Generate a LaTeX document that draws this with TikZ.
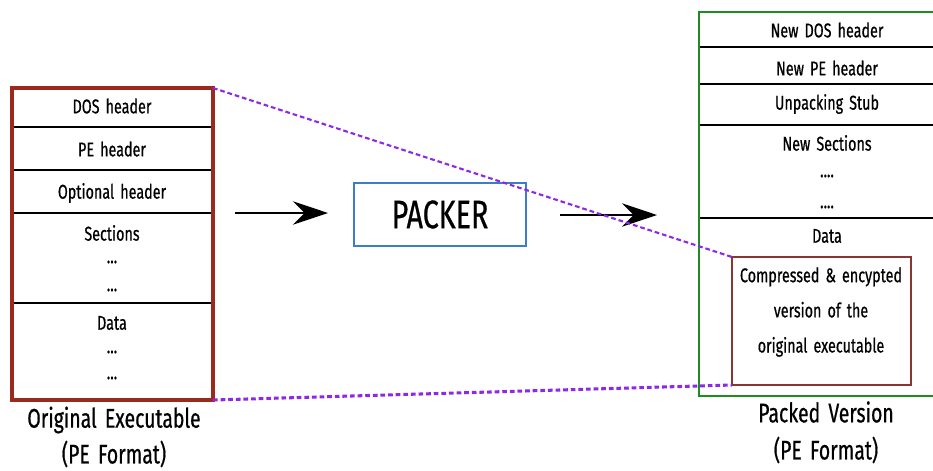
\documentclass[tikz,border=0pt]{standalone}
\usepackage{fontspec}
\setmainfont{Fira Sans}[FakeStretch=0.72,WordSpace=1.6,FakeBold=0.6]
\usetikzlibrary{arrows.meta}
\definecolor{origred}{RGB}{155,42,30}
\definecolor{blobred}{RGB}{140,52,50}
\definecolor{packgreen}{RGB}{30,140,30}
\definecolor{packblue}{RGB}{60,125,200}
\definecolor{linkpurple}{RGB}{140,40,230}
\begin{document}
\begin{tikzpicture}[x=0.03cm,y=-0.03cm]
	\useasboundingbox (0,0) rectangle (933,470);
	\tikzset{
		txt/.style={font=\fontsize{17}{20}\selectfont},
		caption/.style={font=\fontsize{23}{26}\selectfont},
		sep/.style={line width=1.5pt},
		link/.style={linkpurple,line width=1.8pt,dash pattern=on 4pt off 2.5pt}
	}
	% original executable
	\coordinate (o1) at (12,88);
	\coordinate (o2) at (213,400);
	\foreach \y in {127,170,213,303}
		\draw[sep] (12,\y) -- (213,\y);
	\draw[origred,line width=3pt] (o1) rectangle (o2);
	\node[txt] (dos) at (112,106) {DOS header};
	\node[txt] (pe) at (112,149) {PE header};
	\node[txt] (opt) at (112,193) {Optional header};
	\node[txt] (sec) at (112,233) {Sections};
	\node[txt] (sd1) at (112,262) {...};
	\node[txt] (sd2) at (112,290) {...};
	\node[txt] (dat) at (112,323) {Data};
	\node[txt] (dd1) at (112,352) {...};
	\node[txt] (dd2) at (112,378) {...};
	\node[caption] (orig) at (114,420) {Original Executable};
	\node[caption] (origf) at (114,454) {(PE Format)};

	% packer
	\node[draw=packblue,line width=2pt,minimum width=172*0.03cm,minimum height=63*0.03cm,
		font=\fontsize{34}{38}\selectfont] (packer) at (440,214.5) {PACKER};
	\coordinate (a1) at (235,213);
	\coordinate (a2) at (328,213);
	\coordinate (b1) at (560,215);
	\coordinate (b2) at (657,215);
	\begin{scope}[-{Stealth[length=30pt,width=20pt,inset=10pt]},line width=1.6pt]
		\draw (a1) -- (a2);
		\draw (b1) -- (b2);
	\end{scope}

	% packed version
	\coordinate (p1) at (699,12);
	\coordinate (p2) at (950,396);
	\foreach \y in {47,84,125,218}
		\draw[sep] (699,\y) -- (950,\y);
	\draw[packgreen,line width=2.5pt] (p1) rectangle (p2);
	\node[txt] (ndos) at (827,30) {New DOS header};
	\node[txt] (npe) at (827,68) {New PE header};
	\node[txt] (stub) at (827,104) {Unpacking Stub};
	\node[txt] (nsec) at (827,143) {New Sections};
	\node[txt] (nd1) at (827,176) {....};
	\node[txt] (nd2) at (827,207) {....};
	\node[txt] (ndat) at (827,236) {Data};
	\coordinate (c1) at (732,257);
	\coordinate (c2) at (911,385);
	\draw[blobred,line width=2.5pt] (c1) rectangle (c2);
	\node[txt,align=center,font=\fontsize{17}{30}\selectfont] (blob) at (821,312)
		{Compressed \& encypted\\version of the\\original executable};
	\node[caption] (packed) at (826,412) {Packed Version};
	\node[caption] (packedf) at (826,450) {(PE Format)};

	% links
	\draw[link] (o2 |- o1) -- (c1);
	\draw[link,line width=2.6pt] (o2) -- (c1 |- c2);
\end{tikzpicture}
\end{document}
